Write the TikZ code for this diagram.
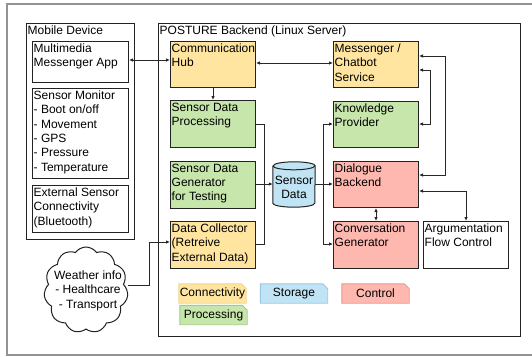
\documentclass[tikz,border=0pt]{standalone}
\usepackage{fontspec}
\setmainfont{Liberation Sans}
\usetikzlibrary{arrows.meta,shapes.symbols,backgrounds}
\definecolor{yelfill}{RGB}{255,229,160}
\definecolor{grnfill}{RGB}{198,230,172}
\definecolor{redfill}{RGB}{255,184,176}
\definecolor{bluefill}{RGB}{193,228,245}
\definecolor{yelline}{RGB}{240,212,140}
\definecolor{grnline}{RGB}{160,205,130}
\definecolor{blueline}{RGB}{150,200,230}
\definecolor{redline}{RGB}{232,150,140}
\definecolor{boxline}{RGB}{34,34,34}
\definecolor{lineclr}{RGB}{40,40,40}
\begin{document}
\begin{tikzpicture}[x=1pt,y=-1pt,
  >={Latex[length=4pt,width=3.5pt]},
  box/.style={draw=boxline, line width=1pt, rectangle, inner sep=0pt, anchor=north west},
  lbl/.style={anchor=north west, inner sep=0pt, align=left, font=\fontsize{12}{14.4}\selectfont},
  ctext/.style={inner sep=0pt, align=center, font=\fontsize{12}{14.4}\selectfont},
  conn/.style={draw=lineclr, line width=0.9pt},
  lg/.style={inner sep=0pt, minimum height=19pt, minimum width=67pt, font=\fontsize{12}{14.4}\selectfont}]
\useasboundingbox (0,0) rectangle (532,356);
% outer frame
\draw[draw=gray!85, line width=1.6pt] (534,4) -- (7,4) -- (7,355) -- (534,355);
% mobile device
\node[box, minimum width=108pt, minimum height=216pt] (mobile) at (26,23) {};
\node[lbl] (mobilet) at ([shift={(1.5pt,-2.5pt)}]mobile.north west) {Mobile Device};
\node[box, minimum width=96pt, minimum height=41pt] (app) at (32,41) {};
\node[lbl] (appt) at ([shift={(1.5pt,-2.5pt)}]app.north west) {Multimedia\\Messenger App};
\node[box, minimum width=96pt, minimum height=90pt] (mon) at (32,88) {};
\node[lbl] (mont) at ([shift={(1.5pt,-2.5pt)}]mon.north west) {Sensor Monitor\\- Boot on/off\\- Movement\\- GPS\\- Pressure\\- Temperature};
\node[box, minimum width=96pt, minimum height=47pt] (ext) at (32,185) {};
\node[lbl] (extt) at ([shift={(1.5pt,-2.5pt)}]ext.north west) {External Sensor\\Connectivity\\(Bluetooth)};
% backend
\node[box, minimum width=362pt, minimum height=313pt] (backend) at (158,23) {};
\node[lbl] (backendt) at ([shift={(1.5pt,-2.5pt)}]backend.north west) {POSTURE Backend (Linux Server)};
\node[box, fill=yelfill, minimum width=85pt, minimum height=46pt] (hub) at (170,41) {};
\node[lbl] (hubt) at ([shift={(1.5pt,-2.5pt)}]hub.north west) {Communication\\Hub};
\node[box, fill=grnfill, minimum width=85pt, minimum height=47pt] (proc) at (170,100) {};
\node[lbl] (proct) at ([shift={(1.5pt,-2.5pt)}]proc.north west) {Sensor Data\\Processing};
\node[box, fill=grnfill, minimum width=85pt, minimum height=47pt] (gen) at (170,161) {};
\node[lbl] (gent) at ([shift={(1.5pt,-2.5pt)}]gen.north west) {Sensor Data\\Generator\\for Testing};
\node[box, fill=yelfill, minimum width=85pt, minimum height=47pt] (coll) at (170,221) {};
\node[lbl] (collt) at ([shift={(1.5pt,-2.5pt)}]coll.north west) {Data Collector\\(Retreive\\External Data)};
\node[box, fill=yelfill, minimum width=85pt, minimum height=46pt] (msg) at (333,41) {};
\node[lbl] (msgt) at ([shift={(1.5pt,-2.5pt)}]msg.north west) {Messenger /\\Chatbot\\Service};
\node[box, fill=grnfill, minimum width=85pt, minimum height=46pt] (know) at (333,101) {};
\node[lbl] (knowt) at ([shift={(1.5pt,-2.5pt)}]know.north west) {Knowledge\\Provider};
\node[box, fill=redfill, minimum width=85pt, minimum height=46pt] (dlg) at (333,161) {};
\node[lbl] (dlgt) at ([shift={(1.5pt,-2.5pt)}]dlg.north west) {Dialogue\\Backend};
\node[box, fill=redfill, minimum width=85pt, minimum height=47pt] (conv) at (333,221) {};
\node[lbl] (convt) at ([shift={(1.5pt,-2.5pt)}]conv.north west) {Conversation\\Generator};
\node[box, fill=white, minimum width=85pt, minimum height=47pt] (arg) at (423,221) {};
\node[lbl] (argt) at ([shift={(1.5pt,-2.5pt)}]arg.north west) {Argumentation\\Flow Control};
% database cylinder
\node[inner sep=0pt, minimum width=42pt, minimum height=45pt] (db) at (294,184.5) {};
\fill[bluefill] ([yshift=-4pt]db.north west) -- ([yshift=4pt]db.south west)
  arc[start angle=180, end angle=360, x radius=21pt, y radius=4pt]
  -- ([yshift=-4pt]db.north east)
  arc[start angle=0, end angle=180, x radius=21pt, y radius=4pt] -- cycle;
\draw[draw=boxline, line width=1pt] ([yshift=-4pt]db.north west) -- ([yshift=4pt]db.south west)
  arc[start angle=180, end angle=360, x radius=21pt, y radius=4pt]
  -- ([yshift=-4pt]db.north east)
  arc[start angle=0, end angle=180, x radius=21pt, y radius=4pt];
\draw[draw=boxline, line width=1pt] ([yshift=-4pt]db.north west)
  arc[start angle=180, end angle=360, x radius=21pt, y radius=4pt];
\node[ctext] (dbt) at (294,187.5) {Sensor\\Data};
% cloud
\node[cloud, draw=boxline, line width=1pt, fill=white, cloud puffs=11, cloud puff arc=110, aspect=0.95,
  minimum width=84pt, minimum height=86pt, inner sep=0pt] (weather) at (86,290) {};
\node[ctext] (weathert) at (88,290.5) {Weather info\\- Healthcare\\- Transport};
% connectors
\draw[conn,<->] (app.east |- 0,60) -- (hub.west |- 0,60);
\draw[conn,<->] (hub.east |- 0,63) -- (msg.west |- 0,63);
\draw[conn,->] (hub.south) -- (proc.north);
\coordinate (bus) at (264,184);
\draw[conn] (proc.east) -| (bus);
\draw[conn] (coll.east |- 0,244) -| (bus);
\draw[conn,->] (gen.east |- bus) -- (db.west |- bus);
\coordinate (split) at (323,184);
\draw[conn,->] (db.east |- split) -- (dlg.west |- split);
\draw[conn,->] (split) |- (know.west |- 0,124);
\draw[conn,->] (split) |- (conv.west |- 0,244);
\draw[conn,<->] (msg.east |- 0,56) -- (445,56) |- (dlg.east |- 0,175);
\draw[conn,<->] (msg.east |- 0,70) -- (430,70) |- (know.east |- 0,124);
\draw[conn,<->] (dlg.east |- 0,191) -| (arg.north);
\draw[conn,<->] (dlg.south) -- (conv.north);
\draw[conn,->] (weather.east |- 0,285) -- (149,285) |- (coll.west |- 0,242);
% legend
\node[lg] (lgconn) at (212.5,293.5) {Connectivity};
\node[lg] (lgproc) at (213.5,315) {Processing};
\node[lg] (lgstor) at (294,293.5) {Storage};
\node[lg] (lgctrl) at (375.5,293.5) {Control};
\begin{scope}[on background layer]
\foreach \n/\f/\d in {lgconn/yelfill/yelline, lgproc/grnfill/grnline, lgstor/bluefill/blueline, lgctrl/redfill/redline}{
  \filldraw[fill=\f, draw=\d, line width=0.9pt] (\n.north west) -- ([xshift=-5pt]\n.north east)
    -- ([yshift=-5pt]\n.north east) -- (\n.south east) -- (\n.south west) -- cycle;
}
\end{scope}
\end{tikzpicture}
\end{document}
